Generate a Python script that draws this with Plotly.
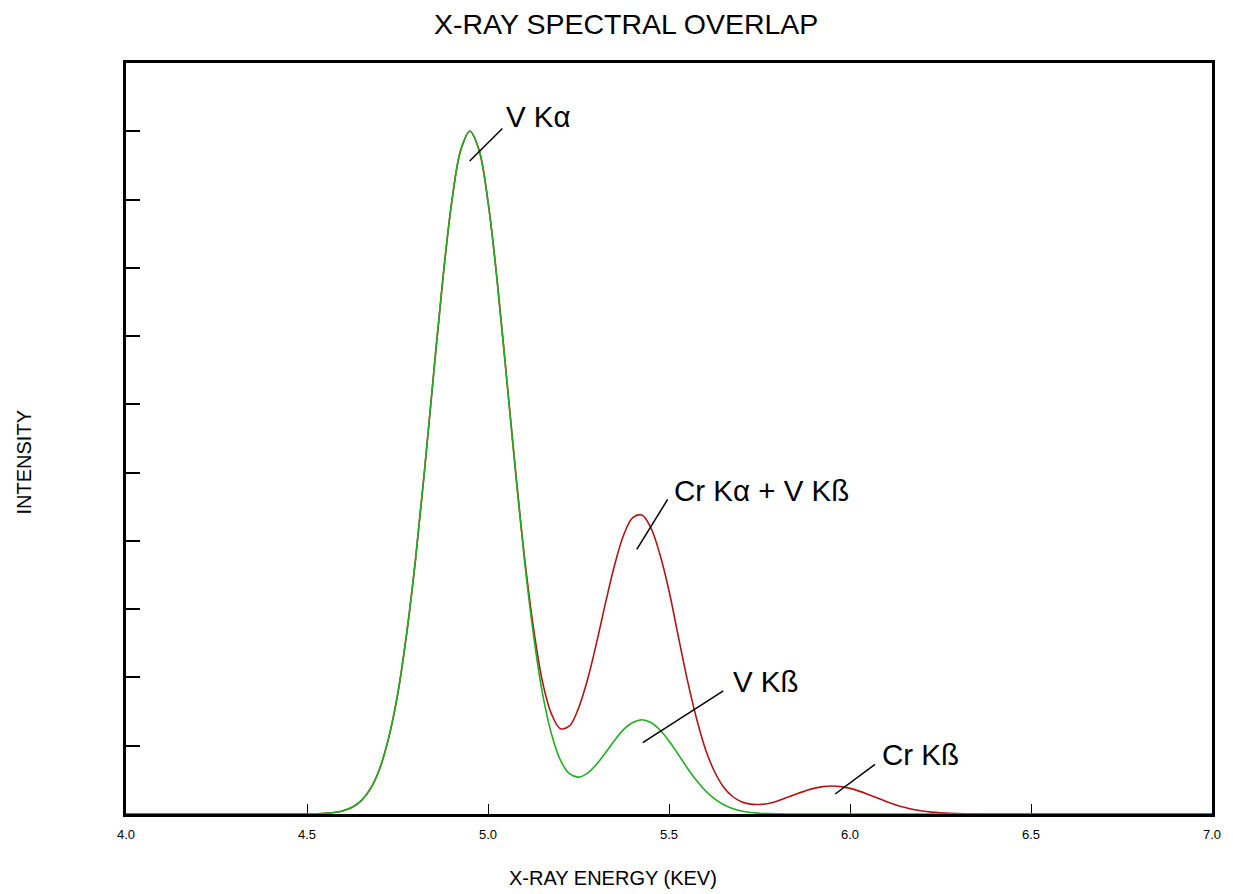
import plotly.graph_objects as go

# X-ray energy grid (keV) and intensities
energy = [4.0, 4.25, 4.5, 4.525, 4.55, 4.575, 4.6, 4.625, 4.65, 4.675, 4.7, 4.725, 4.75, 4.775,
          4.8, 4.825, 4.85, 4.875, 4.9, 4.925, 4.95, 4.975, 5.0, 5.025, 5.05, 5.075, 5.1,
          5.125, 5.15, 5.175, 5.2, 5.225, 5.25, 5.275, 5.3, 5.325, 5.35, 5.375, 5.4, 5.425,
          5.45, 5.475, 5.5, 5.525, 5.55, 5.575, 5.6, 5.625, 5.65, 5.675, 5.7, 5.725, 5.75,
          5.775, 5.8, 5.825, 5.85, 5.875, 5.9, 5.925, 5.95, 5.975, 6.0, 6.025, 6.05, 6.075,
          6.1, 6.125, 6.15, 6.175, 6.2, 6.225, 6.25, 6.275, 6.3, 6.325, 6.35, 6.375, 6.4,
          6.6, 6.8, 7.0]

v_only = [0, 0, 0.001, 0.004, 0.009, 0.022, 0.048, 0.099, 0.196, 0.368, 0.653, 1.10, 1.74, 2.63,
          3.74, 5.05, 6.46, 7.82, 8.97, 9.73, 10.0, 9.73, 8.97, 7.82, 6.46, 5.06, 3.75,
          2.65, 1.78, 1.18, 0.79, 0.59, 0.54, 0.60, 0.73, 0.90, 1.08, 1.24, 1.34, 1.38,
          1.34, 1.23, 1.07, 0.877, 0.678, 0.497, 0.344, 0.225, 0.139, 0.081, 0.045, 0.023, 0.012,
          0.005, 0.002, 0.001, 0.0004, 0, 0, 0, 0, 0, 0, 0, 0, 0,
          0, 0, 0, 0, 0, 0, 0, 0, 0, 0, 0, 0, 0,
          0, 0, 0]

v_plus_cr = [0, 0, 0.001, 0.004, 0.009, 0.022, 0.048, 0.099, 0.196, 0.368, 0.653, 1.10, 1.74, 2.63,
             3.74, 5.05, 6.46, 7.82, 8.97, 9.73, 10.0, 9.73, 8.97, 7.83, 6.47, 5.09, 3.80,
             2.75, 1.95, 1.47, 1.25, 1.29, 1.55, 1.97, 2.51, 3.10, 3.65, 4.09, 4.34, 4.38,
             4.19, 3.80, 3.27, 2.62, 1.98, 1.42, 0.96, 0.63, 0.40, 0.26, 0.18, 0.145, 0.14,
             0.155, 0.19, 0.24, 0.29, 0.335, 0.375, 0.401, 0.41, 0.401, 0.375, 0.335, 0.287, 0.235,
             0.184, 0.137, 0.098, 0.067, 0.044, 0.028, 0.017, 0.009, 0.005, 0.003, 0.0014, 0.0006, 0,
             0, 0, 0]

x_ticks = [4.0, 4.5, 5.0, 5.5, 6.0, 6.5, 7.0]
y_ticks = [1, 2, 3, 4, 5, 6, 7, 8, 9, 10]

# peak labels: text, leader start (on peak), leader end, text anchor
labels = ["V Kα", "Cr Kα + V Kß", "V Kß", "Cr Kß"]
leader_from = [(4.9495, 9.565), (5.411, 3.876), (5.4275, 1.044), (5.959, 0.293)]
leader_to = [(5.0397, 10.04), (5.4964, 4.608), (5.650, 1.805), (6.069, 0.728)]
text_at = [(5.045, 10.22), (5.508, 4.744), (5.672, 1.947), (6.084, 0.878)]

RED = "#b01515"
GREEN = "#1fae1f"
SANS = "Liberation Sans, Arial, sans-serif"

fig = go.Figure()
fig.add_trace(go.Scatter(x=energy, y=v_plus_cr, mode="lines",
                         line=dict(color=RED, width=1.6, shape="spline", smoothing=1.0),
                         showlegend=False, hoverinfo="skip"))
fig.add_trace(go.Scatter(x=energy, y=v_only, mode="lines",
                         line=dict(color=GREEN, width=1.6, shape="spline", smoothing=1.0),
                         showlegend=False, hoverinfo="skip"))

for (x0, y0), (x1, y1) in zip(leader_from, leader_to):
    fig.add_shape(type="line", x0=x0, y0=y0, x1=x1, y1=y1, xref="x", yref="y",
                  line=dict(color="black", width=1.5))
for t, (tx, ty) in zip(labels, text_at):
    fig.add_annotation(x=tx, y=ty, xref="x", yref="y", text=t, showarrow=False,
                       xanchor="left", yanchor="middle",
                       font=dict(family=SANS, size=29.5, color="black"))

# titles
fig.add_annotation(x=0.4608, y=1.052, xref="paper", yref="paper", text="X-RAY SPECTRAL OVERLAP",
                   showarrow=False, xanchor="center", yanchor="middle",
                   font=dict(family=SANS, size=28.5, color="black"))
fig.add_annotation(x=0.448, y=-0.0852, xref="paper", yref="paper", text="X-RAY ENERGY (KEV)",
                   showarrow=False, xanchor="center", yanchor="middle",
                   font=dict(family=SANS, size=20, color="black"))
fig.add_annotation(x=-0.0935, y=0.4687, xref="paper", yref="paper", text="INTENSITY",
                   showarrow=False, xanchor="center", yanchor="middle", textangle=-90,
                   font=dict(family=SANS, size=20, color="black"))

fig.update_xaxes(range=[4.0, 7.0], tickvals=x_ticks, ticktext=[f"{v:.1f}" for v in x_ticks],
                 ticks="inside", ticklen=10, tickwidth=1.2, tickcolor="black",
                 showline=True, linecolor="black", linewidth=3, mirror=True,
                 showgrid=False, zeroline=False, layer="below traces",
                 ticklabelstandoff=6,
                 tickfont=dict(family=SANS, size=13, color="black"))
fig.update_yaxes(range=[0, 11], tickvals=y_ticks, showticklabels=False,
                 ticks="inside", ticklen=14, tickwidth=1.5, tickcolor="black",
                 showline=True, linecolor="black", linewidth=3, mirror=True,
                 showgrid=False, zeroline=False, layer="below traces")

# page has an 8px body margin, so the figure is sized to fit the window
fig.update_layout(width=1225, height=886, margin=dict(l=118, r=19, t=55, b=80),
                  paper_bgcolor="white", plot_bgcolor="white")

fig.write_html("out.html")
